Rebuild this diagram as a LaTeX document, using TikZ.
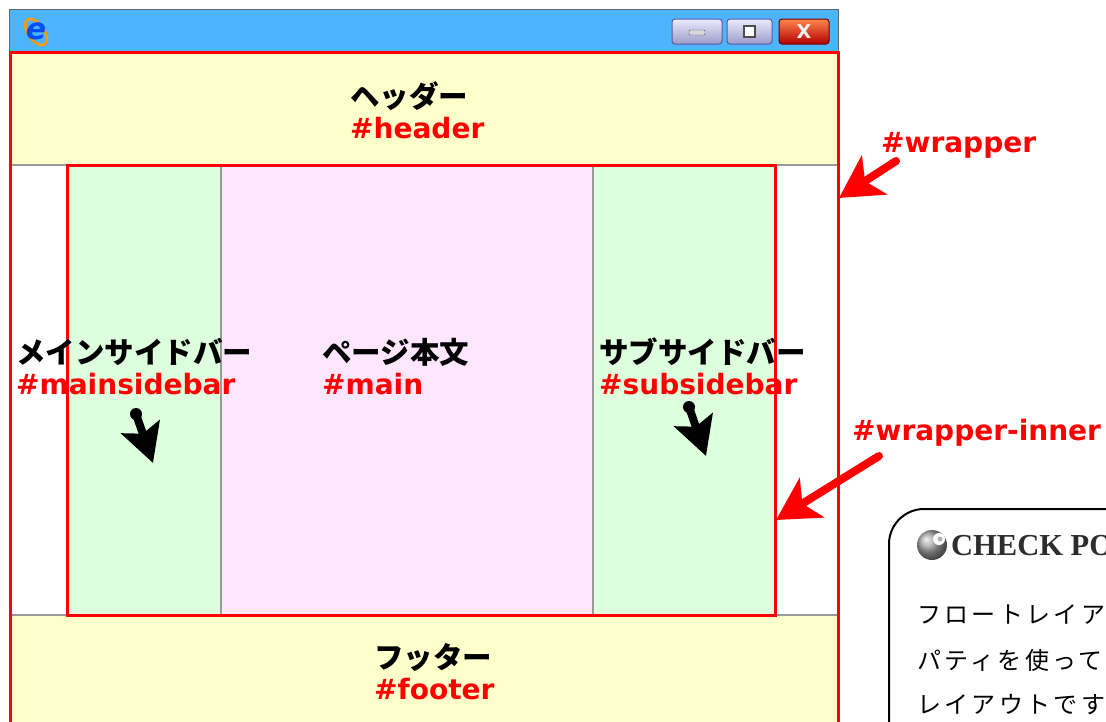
\documentclass[tikz,border=0pt]{standalone}
\usepackage{fontspec}
\usetikzlibrary{positioning,arrows.meta,shadings}
\newfontfamily\jpfont{Noto Sans CJK JP}
\newfontfamily\idfont{DejaVu Sans}
\newfontfamily\cpfont{Liberation Serif}
\definecolor{barblue}{HTML}{4DB5FF}
\definecolor{hfyellow}{HTML}{FFFFCC}
\definecolor{sidegreen}{HTML}{DDFFDD}
\definecolor{mainpink}{HTML}{FFE6FF}
\definecolor{idred}{HTML}{FF0000}
\begin{document}
\begin{tikzpicture}[x=1pt,y=-1pt]
	\tikzstyle{jptext} = [inner sep=0pt,anchor=west,text height=22pt,text depth=6pt,
	font=\jpfont\bfseries\fontsize{29.5}{30}\selectfont]
	\tikzstyle{idtext} = [inner sep=0pt,anchor=west,text height=22pt,text depth=6pt,
	text=idred,font=\idfont\bfseries\fontsize{28}{30}\selectfont]
	\tikzstyle{cptext} = [inner sep=0pt,anchor=west,
	font=\jpfont\fontsize{24}{24}\addfontfeature{LetterSpace=14}\selectfont]
	\tikzstyle{redbox} = [draw=idred,line width=3pt]
	\tikzstyle{winbtn} = [rectangle,rounded corners=3pt,draw=gray!70!blue,line width=1pt,
	minimum height=25pt,inner sep=0pt]
	\tikzstyle{redarrow} = [draw=idred,line width=8pt,line cap=round,
	-{Stealth[length=42pt,width=46pt,inset=11pt]}]
	\tikzstyle{blackarrow} = [draw=black,line width=8pt,line cap=round,
	-{Stealth[length=38pt,width=40pt,inset=7pt]}]
	\useasboundingbox (0,0) rectangle (1106,721);
	\clip (0,0) rectangle (1106,721);
	% window title bar
	\fill[white] (0,0) rectangle (1106,721);
	\filldraw[fill=barblue,draw=gray!80!black,line width=1pt] (9,9) rectangle (838,52);
	\draw[orange!80!yellow,line width=2.5pt,rotate around={35:(36,32)}] (36,32) ellipse (8pt and 15pt);
	\node (ielogo) at (36,31) [text=blue!70!cyan,font=\idfont\bfseries\itshape\fontsize{30}{30}\selectfont] {e};
	\node (btnmin) at (697,31.5) [winbtn,minimum width=50pt,top color=blue!8,bottom color=blue!30!gray!60] {};
	\node (btnmax) at (749.5,31.5) [winbtn,minimum width=45pt,top color=blue!8,bottom color=blue!30!gray!60] {};
	\node (btnclose) at (804,31.5) [winbtn,minimum width=50pt,draw=red!40!black,top color=red!35!orange!70,
	bottom color=red!70!black,text=gray!10,font=\idfont\bfseries\fontsize{19}{19}\selectfont] {X};
	\filldraw[fill=gray!30,draw=gray!60!black,rounded corners=1pt] (689,30) rectangle (705,35);
	\filldraw[fill=white,draw=gray!60!black,line width=1.5pt] (744,26) rectangle (755,37);
	% page areas
	\fill[hfyellow] (10,52) rectangle (838,165);
	\fill[hfyellow] (10,615) rectangle (838,730);
	\fill[sidegreen] (67,165) rectangle (221,615);
	\fill[mainpink] (221,165) rectangle (593,615);
	\fill[sidegreen] (593,165) rectangle (775,615);
	\draw[gray!80,line width=1.5pt] (10,165) -- (838,165) (10,615) -- (838,615)
	(221,165) -- (221,615) (593,165) -- (593,615);
	\draw[redbox] (10,52) rectangle (838,740);
	\draw[redbox] (67,165) rectangle (775,615);
	% labels
	\node (hdrjp) at (350,99) [jptext] {ヘッダー};
	\node (hdrid) [idtext,below=31pt of hdrjp.west,anchor=west] {\#header};
	\node (mainsbjp) at (16,355) [jptext] {メインサイドバー};
	\node (mainsbid) [idtext,below=31pt of mainsbjp.west,anchor=west] {\#mainsidebar};
	\node (mainjp) at (322,355) [jptext] {ページ本文};
	\node (mainid) [idtext,below=31pt of mainjp.west,anchor=west] {\#main};
	\node (subsbjp) at (599,355) [jptext] {サブサイドバー};
	\node (subsbid) [idtext,below=31pt of subsbjp.west,anchor=west] {\#subsidebar};
	\node (ftrjp) at (374,660) [jptext] {フッター};
	\node (ftrid) [idtext,below=31pt of ftrjp.west,anchor=west] {\#footer};
	\node (wrapid) at (881,144) [idtext] {\#wrapper};
	\node (innerid) at (852,432) [idtext] {\#wrapper-inner};
	% arrows
	\coordinate (mainsbtail) at (136,414);
	\coordinate (mainsbtip) at (153,463);
	\coordinate (subsbtail) at (689,407);
	\coordinate (subsbtip) at (706,456);
	\coordinate (wraptail) at (896,161);
	\coordinate (wraptip) at (839,198);
	\coordinate (innertail) at (879,456);
	\coordinate (innertip) at (776,520);
	\draw[blackarrow] (mainsbtail) -- (mainsbtip);
	\draw[blackarrow] (subsbtail) -- (subsbtip);
	\fill (mainsbtail) circle (6pt);
	\fill (subsbtail) circle (6pt);
	\draw[redarrow] (wraptail) -- (wraptip);
	\draw[redarrow] (innertail) -- (innertip);
	% check point box
	\filldraw[fill=white,draw=black,line width=2pt,rounded corners=35pt] (889,509) rectangle (1140,780);
	\shade[ball color=gray!70] (932,545) circle (15pt);
	\fill[white] (939,539) circle (6pt);
	\fill[gray!60] (940,539) circle (2.5pt);
	\node (cptitle) at (951,546) [anchor=west,inner sep=0pt,text=gray!35!black,
	font=\cpfont\bfseries\fontsize{30.5}{30}\selectfont] {CHECK POINT};
	\node (cpline1) at (917,614) [cptext] {フロートレイアウト};
	\node (cpline2) [cptext,below=46pt of cpline1.west,anchor=west] {パティを使って};
	\node (cpline3) [cptext,below=45pt of cpline2.west,anchor=west] {レイアウトです};
\end{tikzpicture}
\end{document}
